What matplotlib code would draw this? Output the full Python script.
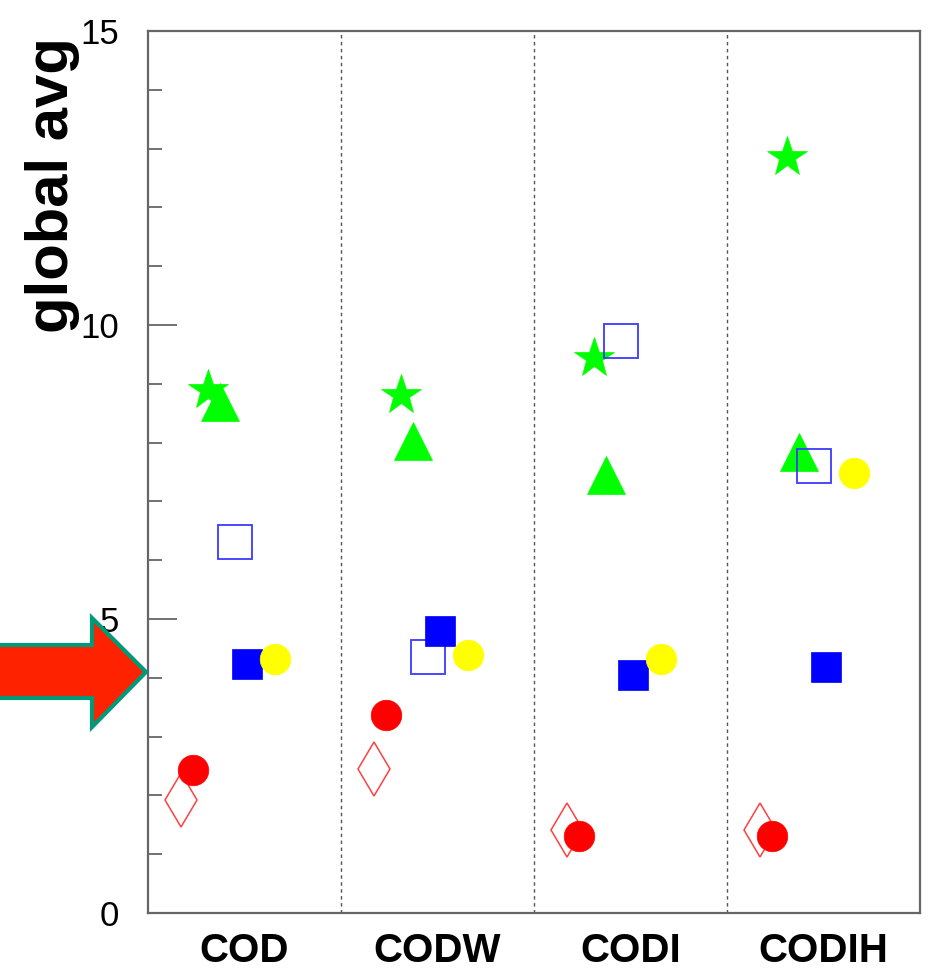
import matplotlib
matplotlib.use("Agg")
import matplotlib.pyplot as plt
from matplotlib.patches import Polygon
from matplotlib.ticker import MultipleLocator
import numpy as np

plt.rcParams['font.family'] = ['Liberation Sans', 'DejaVu Sans']

# Categories and per-series global averages
categories = ['COD', 'CODW', 'CODI', 'CODIH']
open_diamond = [1.92, 2.45, 1.41, 1.41]
red_circle = [2.43, 3.37, 1.31, 1.31]
green_star = [8.90, 8.81, 9.44, 12.86]
green_triangle = [8.69, 8.03, 7.45, 7.84]
open_square = [6.31, 4.35, 9.73, 7.60]
blue_square = [4.23, 4.80, 4.05, 4.18]
yellow_circle = [4.32, 4.39, 4.32, 7.48]

W, H = 953, 976
fig = plt.figure(figsize=(W / 100, H / 100), dpi=100)
ax = fig.add_axes([148 / W, 1 - 913 / H, 772 / W, 882 / H])

base = np.arange(len(categories))

# (values, x offset inside a category, marker style)
series = [
    (open_diamond, 0.17, dict(marker='d', ms=28, mfc='none', mec='#ff4040', mew=1.1)),
    (red_circle, 0.235, dict(marker='o', ms=22, mfc='#ff0000', mec='#ff0000', mew=0.5)),
    (green_star, 0.31, dict(marker='*', ms=30, mfc='#00ff00', mec='#00ff00', mew=0.5)),
    (green_triangle, 0.375, dict(marker='^', ms=27, mfc='#00ff00', mec='#00ff00', mew=0.5)),
    (open_square, 0.45, dict(marker='s', ms=25, mfc='none', mec='#3a3aff', mew=1.3)),
    (blue_square, 0.515, dict(marker='s', ms=22, mfc='#0000ff', mec='#0000ff', mew=0.5)),
    (yellow_circle, 0.66, dict(marker='o', ms=22, mfc='#ffff00', mec='#ffff00', mew=0.5)),
]
for vals, off, st in series:
    ax.plot(base + off, vals, linestyle='none', clip_on=False, **st)

ax.set_xlim(0, len(categories))
ax.set_ylim(0, 15)

for b in base[1:]:
    ax.axvline(b, color='#555555', lw=1.0, linestyle=(0, (2.5, 2.5)))

ax.set_xticks(base + 0.5)
ax.set_xticklabels(categories, fontsize=29, fontweight='bold')
ax.tick_params(axis='x', length=0, pad=14)

ax.yaxis.set_major_locator(MultipleLocator(5))
ax.yaxis.set_minor_locator(MultipleLocator(1))
ax.tick_params(axis='y', which='major', direction='in', length=21, width=1.3,
               color='#666666', labelsize=25, pad=21)
ax.tick_params(axis='y', which='minor', direction='in', length=10, width=1.3,
               color='#666666')
ax.tick_params(right=False, top=False, which='both')

for sp in ax.spines.values():
    sp.set_color('#666666')
    sp.set_linewidth(1.6)

fig.text(53 / W, 1 - 185 / H, 'global avg', rotation=90, fontsize=43,
         fontweight='bold', ha='center', va='center')

# Pointer arrow at the left edge
arrow_px = [(-10, 645), (92, 645), (92, 618), (146, 672), (92, 727),
            (92, 698), (-10, 698)]
arrow_pts = [(x / W, 1 - y / H) for x, y in arrow_px]
fig.patches.append(Polygon(arrow_pts, closed=True, transform=fig.transFigure,
                           facecolor='#ff2200', edgecolor='#009a78', lw=3.0,
                           joinstyle='miter'))

fig.savefig('out.png', dpi=100)
